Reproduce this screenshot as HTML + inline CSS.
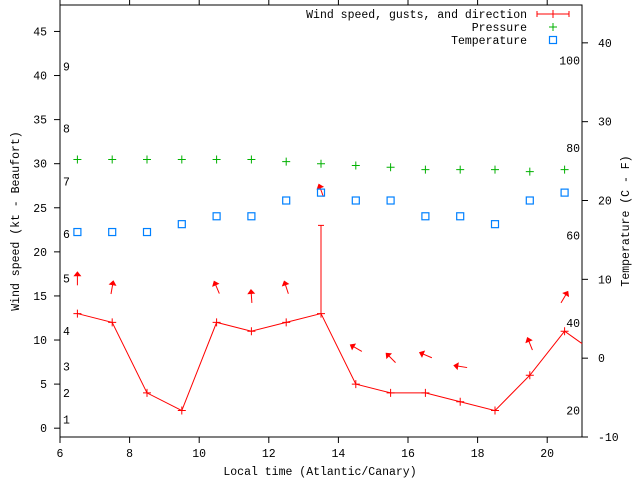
<!DOCTYPE html>
<html><head><meta charset="utf-8"><style>
body{margin:0;background:#fff}
svg text{font-family:"Liberation Mono",monospace;font-size:11.5px;fill:#000}
</style></head><body>
<svg id="chart" width="640" height="480" viewBox="0 0 640 480" xmlns="http://www.w3.org/2000/svg">
<g id="grid"></g>
<g id="marks"></g>
</svg>
<script>
const hours=[6.5,7.5,8.5,9.5,10.5,11.5,12.5,13.5,14.5,15.5,16.5,17.5,18.5,19.5,20.5,21];
const wind=[13,12,4,2,12,11,12,13,5,4,4,3,2,6,11,9.6];
const gustHour=[13.5];
const gustVal=[23];
const pressure=[30.47,30.47,30.47,30.47,30.47,30.47,30.24,30.0,29.8,29.6,29.33,29.33,29.33,29.1,29.33];
const temps=[16,16,16,17,18,18,20,21,20,20,18,18,17,20,21];
const arrowHours=[6.5,7.5,10.5,11.5,12.5,13.5,14.5,15.5,16.5,17.5,19.5,20.5];
const arrowKt=[17,16,16,15,16,27,9.1,8,8.3,7,9.6,14.9];
const arrowDir=[0,10,-23,-4,-18,-20,-60,-45,-67,-81,-22,31];
const xTicks=[6,8,10,12,14,16,18,20];
const yTicks=[0,5,10,15,20,25,30,35,40,45];
const tTicks=[-10,0,10,20,30,40];
const fLabels=[20,40,60,80,100];
const bftLabels=[1,2,3,4,5,6,7,8,9];
const bftKt=[1,4,7,11,17,22,28,34,41];

const L=60,R=582,T=5,B=437;
const X=h=>L+(h-6)/(21-6)*(R-L);
const Y=k=>B-(k+1)/(48+1)*(B-T);
const TY=c=>B-(c+10)/(44.8+10)*(B-T);
const NS="http://www.w3.org/2000/svg";
const grid=document.getElementById('grid'),marks=document.getElementById('marks');
function el(tag,attrs,parent,txt){const e=document.createElementNS(NS,tag);for(const k in attrs)e.setAttribute(k,attrs[k]);if(txt!==undefined)e.textContent=txt;parent.appendChild(e);return e;}

let e=el('rect',{x:L,y:T,width:R-L,height:B-T,fill:'none',stroke:'#000','stroke-width':1},grid);


xTicks.forEach(h=>{
  let t=el('line',{x1:X(h),x2:X(h),y1:B,y2:B+6,stroke:'#000'},grid);
  
  
  let t2=el('line',{x1:X(h),x2:X(h),y1:T,y2:T-6,stroke:'#000'},grid);
  
  
  let l=el('text',{x:X(h),y:457,'text-anchor':'middle'},grid,String(h));
  
  
});
yTicks.forEach(v=>{
  let t=el('line',{x1:L-6,x2:L,y1:Y(v),y2:Y(v),stroke:'#000'},grid);
  
  
  let l=el('text',{x:47,y:Y(v)+4,'text-anchor':'end'},grid,String(v));
  
  
});
tTicks.forEach(v=>{
  let t=el('line',{x1:R,x2:R+6,y1:TY(v),y2:TY(v),stroke:'#000'},grid);
  
  
  let l=el('text',{x:598,y:TY(v)+4},grid,String(v));
  
  
});
fLabels.forEach(f=>{
  let l=el('text',{x:580,y:TY((f-32)*5/9)+4,'text-anchor':'end'},grid,String(f));
  
  
});
bftLabels.forEach((b,i)=>{
  let l=el('text',{x:63,y:Y(bftKt[i])+4},grid,String(b));
  
  
});
e=el('text',{x:320,y:475,'text-anchor':'middle'},grid,'Local time (Atlantic/Canary)');


e=el('text',{x:0,y:0,'text-anchor':'middle',transform:'translate(19,221) rotate(-90)'},grid,'Wind speed (kt - Beaufort)');


e=el('text',{x:0,y:0,'text-anchor':'middle',transform:'translate(629,221) rotate(-90)'},grid,'Temperature (C - F)');



function plus(x,y,c,name){
  let p=el('path',{d:`M${x-4},${y}H${x+4}M${x},${y-4}V${y+4}`,stroke:c,'stroke-width':1,fill:'none'},marks);
  
  
}
function sq(x,y,c,name){
  let r=el('rect',{x:x-3.5,y:y-3.5,width:7,height:7,fill:'none',stroke:c,'stroke-width':1.2},marks);
  
  
}
// wind line
e=el('polyline',{points:hours.map((h,i)=>X(h)+','+Y(wind[i])).join(' '),fill:'none',stroke:'#f00','stroke-width':1},marks);


hours.slice(0,15).forEach((h,i)=>plus(X(h),Y(wind[i]),'#f00','wind-point'));
gustHour.forEach((h,i)=>{
  let g=el('path',{d:`M${X(h)},${Y(wind[hours.indexOf(h)])}V${Y(gustVal[i])}M${X(h)-3},${Y(gustVal[i])}H${X(h)+3}`,stroke:'#f00',fill:'none'},marks);
  
  
});
arrowHours.forEach((h,i)=>{
  const cx=X(h),cy=Y(arrowKt[i]);
  let g=el('g',{transform:`translate(${cx},${cy}) rotate(${arrowDir[i]})`},marks);
  
  
  el('line',{x1:0,y1:7,x2:0,y2:-6,stroke:'#f00','stroke-width':1},g);
  el('path',{d:'M0,-7 L-4,-2 L4,-2 Z',fill:'#f00'},g);
});
pressure.forEach((p,i)=>plus(X(hours[i]),Y(p),'#00b000','pressure-point'));
temps.forEach((t,i)=>sq(X(hours[i]),TY(t),'#0080ff','temperature-point'));

// legend
const lg=el('g',{},marks);


[['Wind speed, gusts, and direction',14],['Pressure',27],['Temperature',40]].forEach(([t,y])=>{
  let l=el('text',{x:527,y:y+4,'text-anchor':'end'},lg,t);
  
  
});
e=el('path',{d:'M537,14H569M537,11V17M569,11V17M553,10V18',stroke:'#f00',fill:'none'},lg);


plus(553,27,'#00b000','legend-pressure-sample');
sq(553,40,'#0080ff','legend-temperature-sample');
</script>
</body></html>
